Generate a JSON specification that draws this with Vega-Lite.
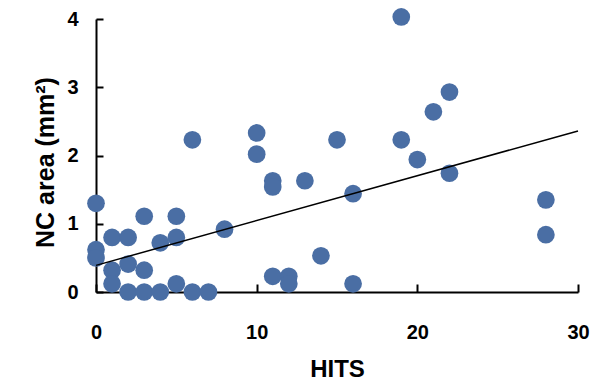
{
  "$schema": "https://vega.github.io/schema/vega-lite/v6.json",
  "width": 482,
  "height": 273,
  "autosize": "none",
  "padding": {"left": 96, "top": 19, "right": 17, "bottom": 94},
  "background": "white",
  "config": {
    "view": {"stroke": null},
    "font": "Liberation Sans",
    "axis": {
      "grid": false,
      "domainColor": "black",
      "domainWidth": 2,
      "labelFlush": false,
      "labelOverlap": false,
      "labelFont": "Liberation Sans",
      "labelFontWeight": "bold",
      "labelFontSize": 20,
      "labelColor": "black",
      "titleFont": "Liberation Sans",
      "titleFontWeight": "bold",
      "titleColor": "black"
    }
  },
  "layer": [
    {
      "data": {
        "values": [
          {"hits": 0, "area": 1.3},
          {"hits": 0, "area": 0.62},
          {"hits": 0, "area": 0.5},
          {"hits": 1, "area": 0.8},
          {"hits": 1, "area": 0.32},
          {"hits": 1, "area": 0.12},
          {"hits": 2, "area": 0.8},
          {"hits": 2, "area": 0.41},
          {"hits": 2, "area": 0.0},
          {"hits": 3, "area": 1.11},
          {"hits": 3, "area": 0.32},
          {"hits": 3, "area": 0.0},
          {"hits": 4, "area": 0.72},
          {"hits": 4, "area": 0.0},
          {"hits": 5, "area": 1.11},
          {"hits": 5, "area": 0.8},
          {"hits": 5, "area": 0.12},
          {"hits": 6, "area": 2.23},
          {"hits": 6, "area": 0.0},
          {"hits": 7, "area": 0.0},
          {"hits": 8, "area": 0.92},
          {"hits": 10, "area": 2.33},
          {"hits": 10, "area": 2.02},
          {"hits": 11, "area": 1.63},
          {"hits": 11, "area": 1.54},
          {"hits": 11, "area": 0.23},
          {"hits": 12, "area": 0.23},
          {"hits": 12, "area": 0.12},
          {"hits": 13, "area": 1.63},
          {"hits": 14, "area": 0.53},
          {"hits": 15, "area": 2.23},
          {"hits": 16, "area": 1.44},
          {"hits": 16, "area": 0.12},
          {"hits": 19, "area": 4.03},
          {"hits": 19, "area": 2.23},
          {"hits": 20, "area": 1.94},
          {"hits": 21, "area": 2.64},
          {"hits": 22, "area": 2.93},
          {"hits": 22, "area": 1.74},
          {"hits": 28, "area": 1.35},
          {"hits": 28, "area": 0.84}
        ]
      },
      "mark": {"type": "circle", "size": 314, "color": "#4a6ea4", "opacity": 1},
      "encoding": {
        "x": {
          "field": "hits",
          "type": "quantitative",
          "scale": {"domain": [0, 30], "nice": false},
          "axis": {"orient": "bottom", "values": [0, 10, 20, 30], "format": "d", "ticks": true, "tickSize": -8, "tickColor": "black", "tickWidth": 2, "labelPadding": 38, "title": "HITS", "titleFontSize": 24, "titlePadding": 15}
        },
        "y": {
          "field": "area",
          "type": "quantitative",
          "scale": {"domain": [0, 4], "nice": false},
          "axis": {"orient": "left", "values": [0, 1, 2, 3, 4], "format": "d", "ticks": true, "tickSize": -7, "tickColor": "black", "tickWidth": 2, "labelPadding": 25, "title": "NC area (mm²)", "titleFontSize": 25, "titlePadding": 8, "titleY": 143}
        }
      }
    },
    {
      "data": {"values": [{"hits": 0, "area": 0.39}, {"hits": 30, "area": 2.36}]},
      "mark": {"type": "line", "color": "black", "strokeWidth": 1.5},
      "encoding": {
        "x": {"field": "hits", "type": "quantitative"},
        "y": {"field": "area", "type": "quantitative"}
      }
    }
  ]
}
